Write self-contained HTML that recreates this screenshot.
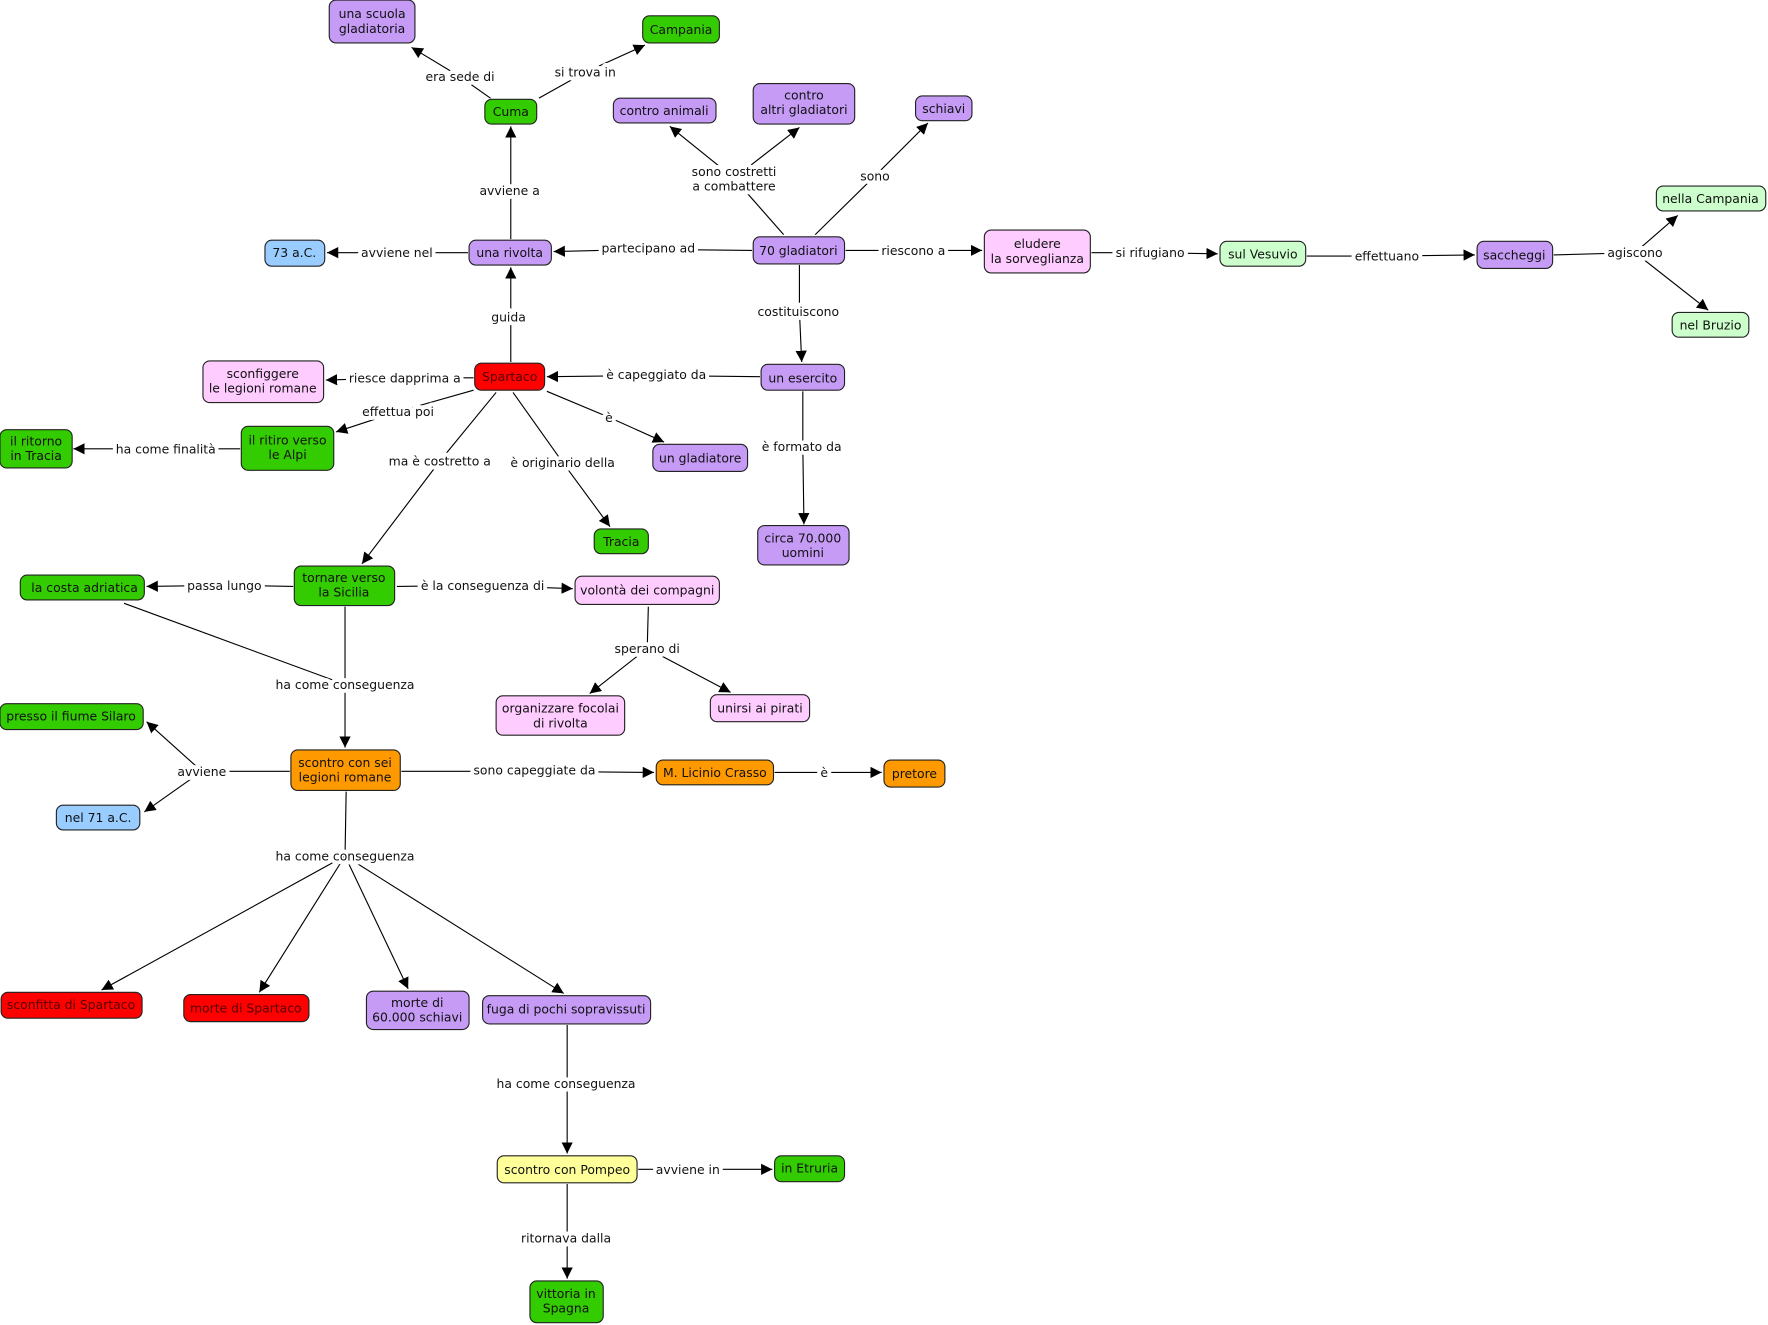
<!DOCTYPE html>
<html><head><meta charset="utf-8"><style>
html,body{margin:0;padding:0;background:#fff;}
svg{display:block}
text{font-family:"DejaVu Sans","Liberation Sans",sans-serif;font-size:11px;fill:#111;}
.l{stroke:#fff;stroke-width:7px;paint-order:stroke;stroke-linejoin:round;}
.n{stroke:#222;stroke-width:1;}
path.e{fill:none;stroke:#000;stroke-width:1;}
</style></head><body>
<svg width="1768" height="1325" viewBox="0 0 1568 1175" xmlns="http://www.w3.org/2000/svg">
<defs><marker id="a" viewBox="0 0 10 10" refX="10" refY="5" markerWidth="10" markerHeight="10" markerUnits="userSpaceOnUse" orient="auto"><path d="M0,0 L10,5 L0,10 z" fill="#000"/></marker></defs>

<!-- edges -->
<g>
<path class="e" d="M435,87 L408,68 L365,42" marker-end="url(#a)"/>
<path class="e" d="M478,87 L519,64 L572,40" marker-end="url(#a)"/>
<path class="e" d="M453,212 L453,169 L453,112" marker-end="url(#a)"/>
<path class="e" d="M415,224 L352,224 L290,224" marker-end="url(#a)"/>
<path class="e" d="M667,222 L575,221 L491,223" marker-end="url(#a)"/>
<path class="e" d="M695,208 L651,158 L594,112" marker-end="url(#a)"/>
<path class="e" d="M651,158 L709,113" marker-end="url(#a)"/>
<path class="e" d="M723,208 L776,156 L823,109" marker-end="url(#a)"/>
<path class="e" d="M750,222 L810,222 L871,222" marker-end="url(#a)"/>
<path class="e" d="M709,235 L709,276 L711,321" marker-end="url(#a)"/>
<path class="e" d="M968,224 L1020,224 L1080,225" marker-end="url(#a)"/>
<path class="e" d="M1159,227 L1230,227 L1308,226" marker-end="url(#a)"/>
<path class="e" d="M1378,226 L1450,224 L1488,191" marker-end="url(#a)"/>
<path class="e" d="M1450,224 L1515,275" marker-end="url(#a)"/>
<path class="e" d="M453,321 L453,281 L453,237" marker-end="url(#a)"/>
<path class="e" d="M674,334 L582,333 L485,334" marker-end="url(#a)"/>
<path class="e" d="M420,335 L359,335 L289,337" marker-end="url(#a)"/>
<path class="e" d="M420,346 L353,365 L298,383" marker-end="url(#a)"/>
<path class="e" d="M213,398 L147,398 L65,398" marker-end="url(#a)"/>
<path class="e" d="M440,348 L390,409 L321,500" marker-end="url(#a)"/>
<path class="e" d="M455,348 L499,410 L541,467" marker-end="url(#a)"/>
<path class="e" d="M485,347 L540,370 L589,392" marker-end="url(#a)"/>
<path class="e" d="M712,347 L712,396 L713,465" marker-end="url(#a)"/>
<path class="e" d="M260,520 L199,519 L130,520" marker-end="url(#a)"/>
<path class="e" d="M352,520 L428,519 L508,522" marker-end="url(#a)"/>
<path class="e" d="M575,538 L574,575 L523,615" marker-end="url(#a)"/>
<path class="e" d="M574,575 L648,614" marker-end="url(#a)"/>
<path class="e" d="M306,538 L306,607 L306,663" marker-end="url(#a)"/>
<path class="e" d="M110,535 L306,607"/>
<path class="e" d="M257,684 L179,684 L130,640" marker-end="url(#a)"/>
<path class="e" d="M179,684 L128,720" marker-end="url(#a)"/>
<path class="e" d="M356,684 L474,684 L580,685" marker-end="url(#a)"/>
<path class="e" d="M687,685 L731,685 L782,685" marker-end="url(#a)"/>
<path class="e" d="M307,702 L306,759 L90,878" marker-end="url(#a)"/>
<path class="e" d="M306,759 L230,880" marker-end="url(#a)"/>
<path class="e" d="M306,759 L362,877" marker-end="url(#a)"/>
<path class="e" d="M306,759 L500,881" marker-end="url(#a)"/>
<path class="e" d="M503,909 L503,961 L503,1023" marker-end="url(#a)"/>
<path class="e" d="M566,1037 L610,1037 L685,1037" marker-end="url(#a)"/>
<path class="e" d="M503,1050 L503,1098 L503,1134" marker-end="url(#a)"/>
</g>

<!-- link labels -->
<g text-anchor="middle">
<text class="l" x="408" y="72">era sede di</text>
<text class="l" x="519" y="68">si trova in</text>
<text class="l" x="452" y="173">avviene a</text>
<text class="l" x="352" y="228">avviene nel</text>
<text class="l" x="575" y="224">partecipano ad</text>
<text class="l" x="651" y="156">sono costretti</text>
<text class="l" x="651" y="169">a combattere</text>
<text class="l" x="776" y="160">sono</text>
<text class="l" x="810" y="226">riescono a</text>
<text class="l" x="708" y="280">costituiscono</text>
<text class="l" x="1020" y="228">si  rifugiano</text>
<text class="l" x="1230" y="231">effettuano</text>
<text class="l" x="1450" y="228">agiscono</text>
<text class="l" x="451" y="285">guida</text>
<text class="l" x="582" y="336">è capeggiato da</text>
<text class="l" x="359" y="339">riesce dapprima a</text>
<text class="l" x="353" y="369">effettua poi</text>
<text class="l" x="147" y="402">ha come finalità</text>
<text class="l" x="390" y="413">ma è costretto a</text>
<text class="l" x="499" y="414">è originario della</text>
<text class="l" x="540" y="374">è</text>
<text class="l" x="711" y="400">è formato da</text>
<text class="l" x="199" y="523">passa lungo</text>
<text class="l" x="428" y="523">è la conseguenza di</text>
<text class="l" x="574" y="579">sperano di</text>
<text class="l" x="306" y="611">ha come conseguenza</text>
<text class="l" x="179" y="688">avviene</text>
<text class="l" x="474" y="687">sono capeggiate da</text>
<text class="l" x="731" y="689">è</text>
<text class="l" x="306" y="763">ha come conseguenza</text>
<text class="l" x="502" y="965">ha come conseguenza</text>
<text class="l" x="610" y="1041">avviene in</text>
<text class="l" x="502" y="1102">ritornava dalla</text>
</g>

<!-- nodes -->
<g text-anchor="middle">
<rect class="n" x="292" y="0" width="76" height="38" rx="6" fill="#c69bf6"/><text x="330" y="16">una scuola</text><text x="330" y="29">gladiatoria</text>
<rect class="n" x="570" y="14" width="68" height="24" rx="6" fill="#33cc00"/><text x="604" y="30">Campania</text>
<rect class="n" x="430" y="88" width="46" height="22" rx="6" fill="#33cc00"/><text x="453" y="103">Cuma</text>
<rect class="n" x="544" y="87" width="91" height="22" rx="6" fill="#c69bf6"/><text x="589" y="102">contro animali</text>
<rect class="n" x="668" y="74" width="90" height="36" rx="6" fill="#c69bf6"/><text x="713" y="88">contro</text><text x="713" y="101">altri gladiatori</text>
<rect class="n" x="812" y="85" width="50" height="22" rx="6" fill="#c69bf6"/><text x="837" y="100">schiavi</text>
<rect class="n" x="235" y="213" width="53" height="23" rx="6" fill="#99ccff"/><text x="261" y="228">73 a.C.</text>
<rect class="n" x="416" y="213" width="73" height="22" rx="6" fill="#c69bf6"/><text x="452" y="228">una rivolta</text>
<rect class="n" x="668" y="210" width="81" height="24" rx="6" fill="#c69bf6"/><text x="708" y="226">70 gladiatori</text>
<rect class="n" x="873" y="204" width="94" height="38" rx="6" fill="#ffccff"/><text x="920" y="220">eludere</text><text x="920" y="233">la sorveglianza</text>
<rect class="n" x="1082" y="214" width="76" height="22" rx="6" fill="#ccffcc"/><text x="1120" y="229">sul Vesuvio</text>
<rect class="n" x="1310" y="214" width="67" height="24" rx="6" fill="#c69bf6"/><text x="1343" y="230">saccheggi</text>
<rect class="n" x="1469" y="165" width="97" height="22" rx="6" fill="#ccffcc"/><text x="1517" y="180">nella Campania</text>
<rect class="n" x="1483" y="277" width="68" height="22" rx="6" fill="#ccffcc"/><text x="1517" y="292">nel Bruzio</text>
<rect class="n" x="180" y="320" width="107" height="37" rx="6" fill="#ffccff"/><text x="233" y="335">sconfiggere</text><text x="233" y="348">le legioni romane</text>
<rect class="n" x="421" y="322" width="62" height="24" rx="6" fill="#ff0000"/><text x="452" y="338" style="fill:#550000">Spartaco</text>
<rect class="n" x="675" y="323" width="74" height="23" rx="6" fill="#c69bf6"/><text x="712" y="339">un esercito</text>
<rect class="n" x="0" y="381" width="64" height="34" rx="6" fill="#33cc00"/><text x="32" y="395">il ritorno</text><text x="32" y="408">in Tracia</text>
<rect class="n" x="214" y="378" width="82" height="39" rx="6" fill="#33cc00"/><text x="255" y="394">il ritiro verso</text><text x="255" y="407">le Alpi</text>
<rect class="n" x="579" y="394" width="84" height="24" rx="6" fill="#c69bf6"/><text x="621" y="410">un gladiatore</text>
<rect class="n" x="527" y="469" width="48" height="22" rx="6" fill="#33cc00"/><text x="551" y="484">Tracia</text>
<rect class="n" x="672" y="466" width="81" height="35" rx="6" fill="#c69bf6"/><text x="712" y="481">circa 70.000</text><text x="712" y="494">uomini</text>
<rect class="n" x="18" y="510" width="110" height="22" rx="6" fill="#33cc00"/><text x="75" y="525">la costa adriatica</text>
<rect class="n" x="261" y="502" width="89" height="35" rx="6" fill="#33cc00"/><text x="305" y="516">tornare verso</text><text x="305" y="529">la Sicilia</text>
<rect class="n" x="510" y="511" width="128" height="25" rx="6" fill="#ffccff"/><text x="574" y="527">volontà dei compagni</text>
<rect class="n" x="440" y="617" width="114" height="35" rx="6" fill="#ffccff"/><text x="497" y="632">organizzare focolai</text><text x="497" y="645">di rivolta</text>
<rect class="n" x="630" y="616" width="88" height="24" rx="6" fill="#ffccff"/><text x="674" y="632">unirsi ai pirati</text>
<rect class="n" x="0" y="624" width="127" height="23" rx="6" fill="#33cc00"/><text x="63" y="639">presso il fiume Silaro</text>
<rect class="n" x="258" y="665" width="97" height="36" rx="6" fill="#ff9900"/><text x="306" y="680">scontro con sei</text><text x="306" y="693">legioni romane</text>
<rect class="n" x="582" y="674" width="104" height="22" rx="6" fill="#ff9900"/><text x="634" y="689">M. Licinio Crasso</text>
<rect class="n" x="784" y="674" width="54" height="24" rx="6" fill="#ff9900"/><text x="811" y="690">pretore</text>
<rect class="n" x="50" y="714" width="74" height="22" rx="6" fill="#99ccff"/><text x="87" y="729">nel 71 a.C.</text>
<rect class="n" x="1" y="880" width="125" height="23" rx="6" fill="#ff0000"/><text x="63" y="895" style="fill:#550000">sconfitta di Spartaco</text>
<rect class="n" x="163" y="882" width="111" height="24" rx="6" fill="#ff0000"/><text x="218" y="898" style="fill:#550000">morte di Spartaco</text>
<rect class="n" x="325" y="879" width="91" height="34" rx="6" fill="#c69bf6"/><text x="370" y="893">morte di</text><text x="370" y="906">60.000 schiavi</text>
<rect class="n" x="428" y="883" width="149" height="25" rx="6" fill="#c69bf6"/><text x="502" y="899">fuga di pochi sopravissuti</text>
<rect class="n" x="441" y="1025" width="124" height="24" rx="6" fill="#ffff99"/><text x="503" y="1041">scontro con Pompeo</text>
<rect class="n" x="687" y="1025" width="62" height="23" rx="6" fill="#33cc00"/><text x="718" y="1040">in Etruria</text>
<rect class="n" x="470" y="1136" width="65" height="37" rx="6" fill="#33cc00"/><text x="502" y="1151">vittoria in</text><text x="502" y="1164">Spagna</text>
</g>
</svg>
</body></html>
